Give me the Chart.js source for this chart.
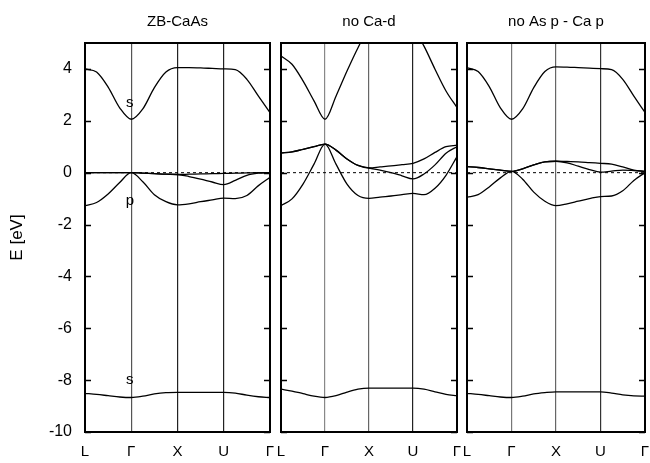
<!DOCTYPE html>
<html>
<head>
<meta charset="utf-8">
<script src="https://cdn.jsdelivr.net/npm/chart.js@4.4.0/dist/chart.umd.min.js"></script>
<style>
  body { margin: 0; background: #fff; }
  canvas { position: absolute; top: 0; }
</style>
</head>
<body>
<canvas id="p1" width="276" height="463" style="left:0px"></canvas>
<canvas id="p2" width="186" height="463" style="left:276px"></canvas>
<canvas id="p3" width="188" height="463" style="left:462px"></canvas>
<script>
// k-path positions (L=0, Γ=1, X=2, U=3, Γ=4)
const kPoints = [0, 0.25, 0.5, 0.75, 1, 1.25, 1.5, 1.75, 2, 2.25, 2.5, 2.75, 3, 3.25, 3.5, 3.75, 4];
const kLabels = ['L', 'Γ', 'X', 'U', 'Γ'];
const yTicks = [-10, -8, -6, -4, -2, 0, 2, 4];
const titles = ['ZB-CaAs', 'no Ca-d', 'no As p - Ca p'];

// ZB-CaAs
const zbCond = [4.0, 3.88, 3.3, 2.5, 2.06, 2.46, 3.28, 3.88, 4.05, 4.05, 4.04, 4.02, 4.0, 3.97, 3.6, 2.95, 2.32];
const zbHH1 = [0, 0, 0, 0, 0, -0.02, -0.04, -0.06, -0.07, -0.06, -0.05, -0.04, -0.03, -0.02, -0.01, 0, 0];
const zbHH2 = [0, 0, 0, 0, 0, -0.02, -0.04, -0.06, -0.07, -0.15, -0.25, -0.36, -0.46, -0.3, -0.1, -0.02, 0];
const zbLH = [-1.27, -1.15, -0.82, -0.38, 0, -0.35, -0.85, -1.12, -1.24, -1.2, -1.12, -1.05, -0.98, -1.0, -0.88, -0.5, -0.18];
const zbLow = [-8.51, -8.55, -8.6, -8.65, -8.67, -8.62, -8.53, -8.48, -8.47, -8.47, -8.47, -8.47, -8.47, -8.5, -8.58, -8.64, -8.67];

// no Ca-d
const ncCond = [4.5, 4.18, 3.54, 2.77, 2.06, 2.95, 3.92, 4.82, 5.6, 6.0, 6.2, 6.0, 5.6, 4.88, 3.99, 3.15, 2.51];
const ncHH1 = [0.76, 0.8, 0.9, 1.0, 1.1, 0.87, 0.53, 0.28, 0.18, 0.22, 0.26, 0.31, 0.36, 0.53, 0.78, 1.0, 1.06];
const ncHH2 = [0.76, 0.8, 0.9, 1.0, 1.1, 0.87, 0.53, 0.28, 0.18, 0.1, 0.0, -0.12, -0.24, -0.05, 0.3, 0.75, 1.0];
const ncLH = [-1.27, -1.01, -0.44, 0.33, 1.1, 0.33, -0.44, -0.88, -0.99, -0.94, -0.9, -0.85, -0.8, -0.85, -0.6, -0.1, 0.62];
const ncLow = [-8.35, -8.42, -8.52, -8.62, -8.67, -8.6, -8.46, -8.35, -8.31, -8.31, -8.31, -8.31, -8.31, -8.35, -8.45, -8.55, -8.6];

// no As p - Ca p
const npCond = [4.05, 3.9, 3.32, 2.5, 2.06, 2.46, 3.28, 3.9, 4.08, 4.07, 4.05, 4.03, 4.01, 3.97, 3.6, 2.95, 2.32];
const npHH1 = [0.23, 0.2, 0.15, 0.1, 0.05, 0.15, 0.3, 0.42, 0.44, 0.43, 0.42, 0.39, 0.36, 0.33, 0.22, 0.1, 0.05];
const npHH2 = [0.23, 0.2, 0.15, 0.1, 0.05, 0.15, 0.3, 0.42, 0.44, 0.38, 0.25, 0.12, 0.02, 0.06, 0.1, 0.08, 0.05];
const npLH = [-0.95, -0.85, -0.55, -0.2, 0.05, -0.25, -0.75, -1.1, -1.27, -1.2, -1.1, -1.0, -0.92, -0.9, -0.7, -0.3, 0.0];
const npLow = [-8.51, -8.55, -8.6, -8.65, -8.67, -8.62, -8.53, -8.48, -8.45, -8.45, -8.45, -8.45, -8.45, -8.5, -8.57, -8.61, -8.62];

// orbital labels in the first panel
const noteText = ['s', 'p', 's'];
const noteK = [0.97, 0.97, 0.97];
const noteE = [2.7, -1.1, -8.0];

const FONT = 'Liberation Sans, Arial, Helvetica, sans-serif';

const framePlugin = {
  id: 'frame',
  afterDatasetsDraw(chart, args, opts) {
    const { ctx, chartArea: a, scales } = chart;
    ctx.save();
    ctx.strokeStyle = '#000';
    ctx.lineWidth = 2;
    ctx.strokeRect(a.left, a.top, a.right - a.left, a.bottom - a.top);
    ctx.lineWidth = 1.5;
    yTicks.forEach(v => {
      const py = Math.round(scales.y.getPixelForValue(v)) + 0.5;
      ctx.beginPath();
      ctx.moveTo(a.left, py); ctx.lineTo(a.left + 6, py);
      ctx.moveTo(a.right - 6, py); ctx.lineTo(a.right, py);
      ctx.stroke();
    });
    if (opts.notes) {
      ctx.fillStyle = '#000';
      ctx.font = '15px ' + FONT;
      ctx.textAlign = 'center';
      ctx.textBaseline = 'middle';
      noteText.forEach((t, i) => {
        ctx.fillText(t, scales.x.getPixelForValue(noteK[i]), scales.y.getPixelForValue(noteE[i]));
      });
    }
    ctx.restore();
  }
};

function bandSet(vals) {
  return {
    data: kPoints.map((k, i) => ({ x: k, y: vals[i] })),
    borderColor: '#000',
    borderWidth: 1.3,
    pointRadius: 0,
    cubicInterpolationMode: 'monotone',
    fill: false
  };
}

function makePanel(id, title, bands, showY, padL, padR, gridCols, notes) {
  const datasets = bands.map(bandSet);
  datasets.push({
    data: [{ x: 0, y: 0 }, { x: 4, y: 0 }],
    borderColor: '#000',
    borderWidth: 1,
    borderDash: [3, 3],
    pointRadius: 0,
    fill: false
  });
  new Chart(document.getElementById(id), {
    type: 'line',
    data: { datasets: datasets },
    options: {
      responsive: false,
      animation: false,
      events: [],
      layout: { autoPadding: false, padding: { left: padL, right: padR, top: 0, bottom: 0 } },
      plugins: {
        legend: { display: false },
        tooltip: { enabled: false },
        title: {
          display: true, text: title, fullSize: false, color: '#000',
          font: { family: FONT, size: 15, weight: 'normal' },
          padding: { top: 13, bottom: 12 }
        },
        frame: { notes: notes }
      },
      scales: {
        x: {
          type: 'linear', min: 0, max: 4,
          afterBuildTicks: s => { s.ticks = kLabels.map((_, i) => ({ value: i })); },
          afterFit: s => { s.height = 31; s.paddingLeft = 0; s.paddingRight = 0; },
          ticks: {
            autoSkip: false, maxRotation: 0, color: '#000', padding: 11,
            font: { family: FONT, size: 15 },
            callback: v => kLabels[v]
          },
          grid: {
            drawTicks: false,
            color: c => gridCols[c.index] || 'rgba(0,0,0,0)',
            lineWidth: c => (c.index === 0 || c.index === 4) ? 0 : 1.2
          },
          border: { display: false }
        },
        y: {
          min: -10, max: 5,
          display: showY,
          afterBuildTicks: s => { s.ticks = yTicks.map(v => ({ value: v })); },
          afterFit: s => { s.width = showY ? 85 : 0; s.paddingTop = 0; s.paddingBottom = 0; },
          ticks: { color: '#000', padding: 13, font: { family: FONT, size: 16 } },
          grid: { display: false, drawTicks: false },
          border: { display: false },
          title: {
            display: true, text: 'E [eV]', color: '#000',
            font: { family: FONT, size: 17 },
            padding: { top: 7, bottom: 0 }
          }
        }
      }
    },
    plugins: [framePlugin]
  });
}

makePanel('p1', titles[0], [zbCond, zbHH1, zbHH2, zbLH, zbLow], true, 0, 6,
  [null, '#555', '#222', '#222', null], true);
makePanel('p2', titles[1], [ncCond, ncHH1, ncHH2, ncLH, ncLow], false, 5, 5,
  [null, '#888', '#666', '#222', null], false);
makePanel('p3', titles[2], [npCond, npHH1, npHH2, npLH, npLow], false, 5, 5,
  [null, '#777', '#666', '#333', null], false);
</script>
</body>
</html>
